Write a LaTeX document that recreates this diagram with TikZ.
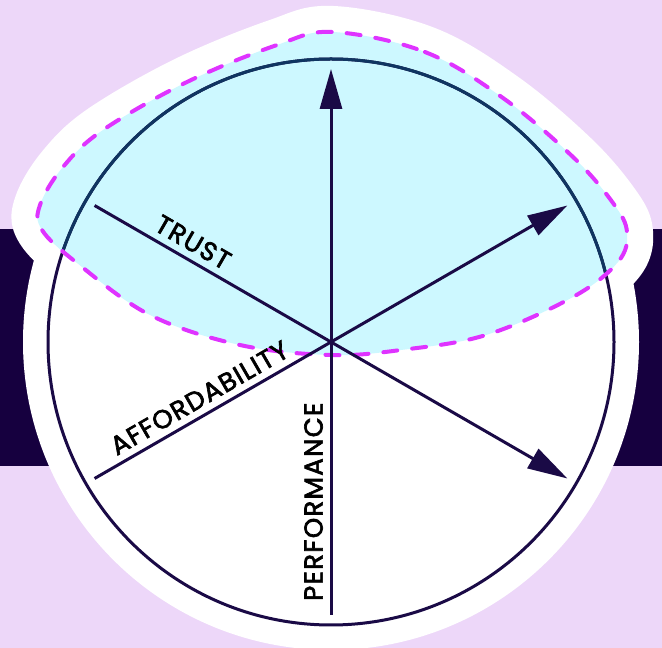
\documentclass[tikz,border=0pt]{standalone}
\usepackage{fontspec}
\setmainfont{Poppins}
\newfontfamily\labelfont{Poppins}[FakeBold=2.5, LetterSpace=5]
\usepackage{tikz}
\usetikzlibrary{arrows.meta,calc}
\usepackage{xcolor}

\definecolor{lavender}{HTML}{EDD7F9}
\definecolor{navy}{HTML}{16003F}
\definecolor{rim}{HTML}{1A0A46}
\definecolor{rimblue}{HTML}{0F3561}
\definecolor{aqua}{HTML}{CDF8FF}
\definecolor{dashpink}{HTML}{DF33FF}

\tikzset{
    axisline/.style={rim, line width=3pt},
    axisarrow/.style={axisline, -{Triangle[length=40pt,width=22pt]}},
    axislabel/.style={font=\labelfont\fontsize{26}{26}\selectfont, inner xsep=0pt, inner ysep=8pt, anchor=south},
}

% 信任区域的轮廓
\def\trustblob{plot[smooth cycle, tension=0.6] coordinates {
    (333,616) (425,596) (503,550) (573,491) (613,445) (627,416)
    (618,386) (573,351) (486,313) (401,298) (330,293) (240,303)
    (150,333) (77,385) (42,418) (40,443) (63,481) (103,518)
    (187,566) (277,603)}}

\begin{document}
\begin{tikzpicture}[x=1pt, y=1pt]
    % 背景
    \useasboundingbox (0,0) rectangle (662,648);
    \fill[lavender] (0,0) rectangle (662,648);
    \fill[navy] (0,182) rectangle (662,419);

    \coordinate (o) at (331,306);

    % 白色底板
    \fill[white] (o) circle (308);
    \path[fill=white, draw=white, line width=52pt, line join=round] \trustblob;

    % 青色区域与圆
    \fill[aqua] \trustblob;
    \draw[rim, line width=3pt] (o) circle (283);
    \begin{scope}
        \clip \trustblob;
        \draw[rimblue, line width=3pt] (o) circle (283);
    \end{scope}
    \draw[dashpink, line width=4pt, dash pattern=on 14pt off 15pt, line cap=round] \trustblob;

    % 六条轴
    \foreach \ang/\nm in {90/top, 30/ne, -30/se, -90/perf, 210/afford, 150/trust} {
        \coordinate (\nm) at ($(o)+(\ang:273)$);
    }
    \foreach \nm in {top, ne, se} {
        \draw[axisarrow] (o) -- (\nm);
    }
    \foreach \nm in {perf, afford, trust} {
        \draw[axisline] (o) -- (\nm);
    }

    % 标注
    \node[axislabel, rotate=-30] (trust lbl) at ($(o)!0.62!(trust)$) {TRUST};
    \node[axislabel, rotate=30] (afford lbl) at ($(o)!0.52!(afford)$) {AFFORDABILITY};
    \node[axislabel, rotate=90] (perf lbl) at ($(o)!0.585!(perf)$) {PERFORMANCE};
\end{tikzpicture}
\end{document}
